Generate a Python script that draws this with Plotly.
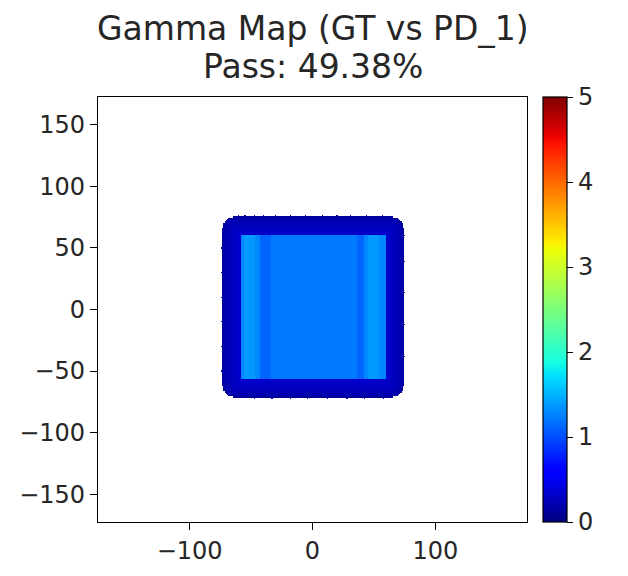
import numpy as np
import plotly.graph_objects as go

# ---- gamma map description (units: mm) ----
title_line1 = "Gamma Map (GT vs PD_1)"
title_line2 = "Pass: 49.38%"

axis_limit_x = [-174.5, 174.5]
axis_limit_y = [-172.5, 172.5]
x_tick_values = [-100, 0, 100]
y_tick_values = [-150, -100, -50, 0, 50, 100, 150]
colorbar_ticks = [0, 1, 2, 3, 4, 5]
gamma_range = [0, 5]

# irradiated field (outer edge) and its corner rounding
field_x = [-73, 74]
field_y = [-71, 75]
corner_radius = 9

# gamma in the penumbra ring, from the outer edge inwards (one value per mm)
ring_gamma = [0.14, 0.17, 0.2, 0.22, 0.23, 0.24, 0.25, 0.26, 0.27, 0.28,
              0.29, 0.3, 0.31, 0.33, 0.36]

# gamma inside the field: vertical bands between these x edges
band_edges_x = [-59, -55, -46, -42, -33, 37, 42, 46, 55, 60]
band_gamma = [1.28, 1.38, 1.28, 1.12, 1.22, 1.12, 1.28, 1.38, 1.28]

# small spill-over marks just outside the field edge
spill_top_x = [-60, -55, -47, -40, -30, -18, -6, 8, 20, 31, 44, 57]
spill_bottom_x = [-47, -33, -18, -4, 12, 28, 42, 58]
spill_left_y = [-50, -30, -10, 10, 30, 50]
spill_right_y = [-38, -12, 14, 39, 60]
spill_gamma = 0.15

# ---- build the gamma grid ----
xs = np.arange(-174, 175, 1.0)
ys = np.arange(-172, 173, 1.0)
X, Y = np.meshgrid(xs, ys)
Z = np.full(X.shape, np.nan)

# distance from the field edge (inside), with rounded corners
dx = np.minimum(X - field_x[0], field_x[1] - X)
dy = np.minimum(Y - field_y[0], field_y[1] - Y)
inside = (dx >= 0) & (dy >= 0)
r = corner_radius
cx = np.clip(X, field_x[0] + r, field_x[1] - r)
cy = np.clip(Y, field_y[0] + r, field_y[1] - r)
corner_dist = r - np.hypot(X - cx, Y - cy)
in_corner = ((X < field_x[0] + r) | (X > field_x[1] - r)) & \
            ((Y < field_y[0] + r) | (Y > field_y[1] - r))
depth = np.where(in_corner, corner_dist, np.minimum(dx, dy))
inside &= depth >= 0

ring_idx = np.clip(depth.astype(int), 0, len(ring_gamma) - 1)
ring_vals = np.array(ring_gamma)[ring_idx]
Z[inside] = ring_vals[inside]

# interior bands
n_ring = len(ring_gamma)
core = inside & (depth >= n_ring)
band_idx = np.clip(np.searchsorted(band_edges_x, X, side="right") - 1,
                   0, len(band_gamma) - 1)
band_vals = np.array(band_gamma)[band_idx]
Z[core] = band_vals[core]


# spill-over marks
def mark(xc, yc, w, h):
    sel = (np.abs(X - xc) <= w / 2) & (np.abs(Y - yc) <= h / 2) & np.isnan(Z)
    Z[sel] = spill_gamma


for sx in spill_top_x:
    mark(sx, field_y[1] + 0.5, 0.5, 2)
for sx in spill_bottom_x:
    mark(sx, field_y[0] - 0.5, 0.5, 2)
for sy in spill_left_y:
    mark(field_x[0] - 0.5, sy, 2, 0.5)
for sy in spill_right_y:
    mark(field_x[1] + 0.5, sy, 2, 0.5)

# ---- matplotlib-style "jet" colour scale ----
jet_r = [(0, 0), (0.35, 0), (0.66, 1), (0.89, 1), (1, 0.5)]
jet_g = [(0, 0), (0.125, 0), (0.375, 1), (0.64, 1), (0.91, 0), (1, 0)]
jet_b = [(0, 0.5), (0.11, 1), (0.34, 1), (0.65, 0), (1, 0)]


def channel(pts, t):
    a = np.array(pts)
    return np.interp(t, a[:, 0], a[:, 1])


ts = np.linspace(0, 1, 65)
jet_scale = [
    [float(t), "rgb(%d,%d,%d)" % (round(255 * channel(jet_r, t)),
                                  round(255 * channel(jet_g, t)),
                                  round(255 * channel(jet_b, t)))]
    for t in ts
]

font_family = "DejaVu Sans"
text_color = "#262626"

fig = go.Figure(
    go.Heatmap(
        x=xs, y=ys, z=Z,
        colorscale=jet_scale,
        zmin=gamma_range[0], zmax=gamma_range[1],
        hoverongaps=False,
        colorbar=dict(
            x=1.037, xanchor="left", xref="paper",
            y=0.5, yanchor="middle", yref="paper",
            len=1.0, lenmode="fraction",
            thickness=24, outlinewidth=1.2, outlinecolor="black",
            ypad=0, xpad=0,
            tickvals=colorbar_ticks, ticks="outside", ticklen=6,
            tickwidth=1.2, tickcolor="black",
            tickfont=dict(family=font_family, size=24, color=text_color),
        ),
    )
)

axis_common = dict(
    showgrid=False, zeroline=False, showline=True, mirror=True,
    linecolor="black", linewidth=1.2, automargin=False,
    ticks="outside", ticklen=7, tickwidth=1.2, tickcolor="black",
    tickfont=dict(family=font_family, size=24, color=text_color),
)

fig.update_layout(
    width=628, height=576,
    margin=dict(l=98, r=101, t=97, b=54),
    paper_bgcolor="white", plot_bgcolor="white",
    xaxis=dict(range=axis_limit_x, tickvals=x_tick_values, tickangle=0,
               **axis_common),
    yaxis=dict(range=axis_limit_y, tickvals=y_tick_values, **axis_common),
    annotations=[
        dict(text=title_line1, x=0.5, y=1.0, xref="paper", yref="paper",
             xanchor="center", yanchor="bottom", yshift=47, showarrow=False,
             font=dict(family=font_family, size=33, color=text_color)),
        dict(text=title_line2, x=0.5, y=1.0, xref="paper", yref="paper",
             xanchor="center", yanchor="bottom", yshift=9, showarrow=False,
             font=dict(family=font_family, size=33, color=text_color)),
    ],
)

fig.write_html("out.html")
